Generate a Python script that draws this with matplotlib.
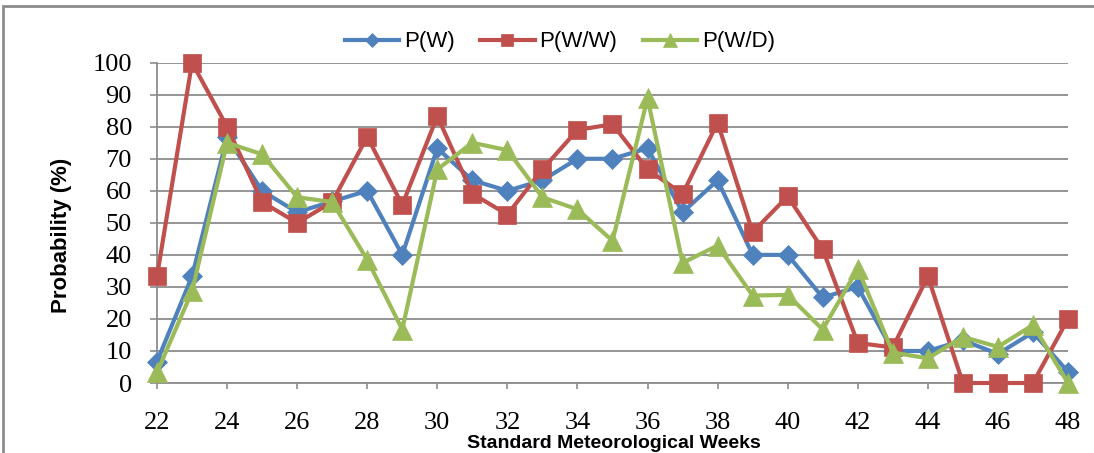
import matplotlib
matplotlib.use("Agg")
import matplotlib.pyplot as plt
from matplotlib.patches import Rectangle

weeks = list(range(22, 49))
p_w = [6.7, 33.3, 76.7, 60, 53.3, 56.7, 60, 40, 73.3, 63.3, 60, 63.3, 70, 70, 73.3,
       53.3, 63.3, 40, 40, 26.7, 30, 10, 10, 13.3, 9.1, 15.8, 3.5]
p_ww = [33.3, 100, 80, 56.5, 50, 56.5, 76.9, 55.6, 83.3, 59.1, 52.6, 66.7, 79, 80.8, 66.7,
        59, 81.3, 47.1, 58.3, 41.7, 12.5, 11.1, 33.3, 0, 0, 0, 20]
p_wd = [3.3, 28.6, 75, 71.4, 58, 56.5, 38.5, 16.7, 66.7, 75, 72.7, 58, 54.2, 44.4, 88.9,
        37.5, 42.9, 27.3, 27.5, 16.7, 35.7, 9.5, 7.7, 14.4, 11.3, 18.1, 0]
xtick_vals = list(range(22, 49, 2))
ytick_vals = list(range(0, 101, 10))

W, H = 1094, 453
fig = plt.figure(figsize=(W / 100, H / 100), dpi=100)
ax = fig.add_axes([157 / W, 1 - 383 / H, (1068 - 157) / W, (383 - 62.7) / H])

blue, red, green = "#4F81BD", "#C0504D", "#9BBB59"
ax.plot(weeks, p_w, color=blue, lw=3, marker="D", ms=10.5, mew=0.5, label="P(W)", zorder=3)
ax.plot(weeks, p_ww, color=red, lw=3, marker="s", ms=13, mew=0.5, label="P(W/W)", zorder=3)
ax.plot(weeks, p_wd, color=green, lw=3, marker="^", ms=14, mew=0.5, label="P(W/D)", zorder=4)

ax.set_xlim(22, 48)
ax.set_ylim(0, 100)
ax.set_xticks(xtick_vals)
ax.set_yticks(ytick_vals)
ax.grid(axis="y", color="#8C8C8C", lw=1.3)
ax.set_axisbelow(True)
for s in ["top", "right"]:
    ax.spines[s].set_visible(False)
for s in ["left", "bottom"]:
    ax.spines[s].set_color("#8C8C8C")
    ax.spines[s].set_linewidth(1.3)
for line in ax.lines:
    line.set_clip_on(False)

serif = "Liberation Serif"
ax.tick_params(axis="x", direction="out", length=4, width=1.2, color="#8C8C8C", pad=17)
ax.tick_params(axis="y", direction="out", length=5, width=1.2, color="#8C8C8C", pad=13)
for lab in ax.get_xticklabels() + ax.get_yticklabels():
    lab.set_fontfamily(serif)
    lab.set_fontsize(19)

fig.text(614 / W, 1 - 443 / H, "Standard Meteorological Weeks", ha="center", va="center",
         fontfamily="Liberation Sans", fontweight="bold", fontsize=14)
fig.text(62 / W, 1 - 235 / H, "Probability (%)", ha="center", va="center", rotation=90,
         fontfamily="Liberation Sans", fontweight="bold", fontsize=16)

leg = fig.legend(loc="center", bbox_to_anchor=(560 / W, 1 - 42 / H), ncol=3, frameon=False,
                 prop={"family": "Liberation Sans", "size": 16}, handlelength=2.45,
                 handletextpad=0.22, columnspacing=1.15, markerscale=0.7)

fig.patches.append(Rectangle((3 / W, -0.1), 1.2, 1 - 6 / H + 0.1, transform=fig.transFigure,
                             fill=False, edgecolor="#8C8C8C", lw=2))

fig.savefig("out.png", dpi=100)
